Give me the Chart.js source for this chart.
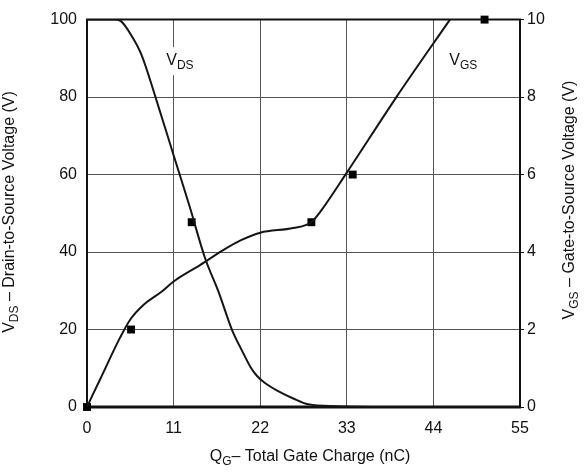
<!DOCTYPE html>
<html>
<head>
<meta charset="utf-8">
<script src="https://cdn.jsdelivr.net/npm/chart.js@4"></script>
<style>
    html, body { margin: 0; padding: 0; background: #fff; }
</style>
</head>
<body>
<canvas id="graf" width="584" height="472"></canvas>
<script>
// Gate charge - odčítané z obrázku
const qTicks = [0, 11, 22, 33, 44, 55]
const vdsTicks = [0, 20, 40, 60, 80, 100]
const vgsTicks = [0, 2, 4, 6, 8, 10]

// V_DS krivka (ľavá os, V)
const vdsQ = [0, 3.5, 4.3, 5.7, 6.9, 8.7, 11, 13, 15, 16.7, 18.4, 19.7, 20.8, 21.6, 22.6, 24.1, 26.2, 28.1, 31.7, 40, 55]
const vdsV = [100, 100, 99.6, 95.7, 91, 80, 65, 52, 38.4, 29.8, 20, 14.5, 10.2, 8.0, 6.2, 4.3, 2.2, 0.7, 0.2, 0, 0]

// V_GS krivka (pravá os, V)
const vgsQ = [0, 0.6, 1.7, 4.2, 5.5, 7.2, 9.5, 11, 14.4, 17.3, 19.5, 22, 26.2, 28.5, 29.6, 33, 39.3, 46.1]
const vgsV = [0, 0.26, 0.73, 1.79, 2.26, 2.64, 2.98, 3.24, 3.67, 4.05, 4.3, 4.5, 4.62, 4.77, 5.03, 6.05, 8.0, 10]

// štvorcové značky (pravá os)
const markQ = [0, 5.6, 13.3, 28.5, 33.75, 50.5]
const markV = [0, 2, 4.77, 4.77, 6, 10]

// popisy kriviek (pozícia v dátach ľavej osi)
const curveNames = [['V', 'DS'], ['V', 'GS']]
const curveQ = [11.8, 47.8]
const curveV = [88.5, 88.5]

const FONT = '"Liberation Sans", Arial, Helvetica, sans-serif'
const INK = '#111'

function body(xs, ys) {
    return xs.map((x, i) => ({ x, y: ys[i] }))
}

// text s dolným indexom: parts = [[text, sub], ...]
function textSub(ctx, parts, x, y, size) {
    const subSize = Math.round(size * 0.75)
    let w = 0
    parts.forEach(p => {
        ctx.font = `${p[1] ? subSize : size}px ${FONT}`
        w += ctx.measureText(p[0]).width
    })
    let cx = x - w / 2
    ctx.textAlign = 'left'
    ctx.textBaseline = 'alphabetic'
    parts.forEach(p => {
        ctx.font = `${p[1] ? subSize : size}px ${FONT}`
        ctx.fillText(p[0], cx, p[1] ? y + 4 : y)
        cx += ctx.measureText(p[0]).width
    })
    return w
}

const texty = {
    id: 'texty',
    beforeDatasetsDraw(chart) {
        const ctx = chart.ctx
        const a = chart.chartArea
        const sx = chart.scales.x
        const sy = chart.scales.y

        // rám
        ctx.save()
        ctx.strokeStyle = INK
        ctx.lineWidth = 2
        ctx.beginPath()
        ctx.moveTo(a.left, a.bottom); ctx.lineTo(a.left, a.top)
        ctx.lineTo(a.right, a.top); ctx.lineTo(a.right, a.bottom)
        ctx.stroke()
        ctx.lineWidth = 3
        ctx.beginPath()
        ctx.moveTo(a.left - 1, a.bottom); ctx.lineTo(a.right + 1, a.bottom)
        ctx.stroke()

        // popisy kriviek s bielym pozadím
        curveNames.forEach((n, i) => {
            const px = sx.getPixelForValue(curveQ[i])
            const py = sy.getPixelForValue(curveV[i])
            ctx.font = `16px ${FONT}`
            let w = ctx.measureText(n[0]).width
            ctx.font = `12px ${FONT}`
            w += ctx.measureText(n[1]).width
            ctx.fillStyle = '#fff'
            ctx.fillRect(px - w / 2 - 3, py - 17, w + 6, 28)
            ctx.fillStyle = INK
            textSub(ctx, [[n[0], false], [n[1], true]], px, py + 1, 16)
        })
        ctx.restore()
    },
    afterDraw(chart) {
        const ctx = chart.ctx
        ctx.save()
        ctx.fillStyle = INK

        // os X
        textSub(ctx, [['Q', false], ['G', true], ['– Total Gate Charge (nC)', false]], 310, 461, 16)

        // ľavá os
        ctx.save()
        ctx.translate(14, 212)
        ctx.rotate(-Math.PI / 2)
        textSub(ctx, [['V', false], ['DS', true], [' – Drain-to-Source Voltage (V)', false]], 0, 0, 16)
        ctx.restore()

        // pravá os
        ctx.save()
        ctx.translate(574, 200)
        ctx.rotate(-Math.PI / 2)
        textSub(ctx, [['V', false], ['GS', true], [' – Gate-to-Source Voltage (V)', false]], 0, 0, 16)
        ctx.restore()

        ctx.restore()
    }
}

const tickFont = { family: FONT, size: 16 }

new Chart(document.getElementById('graf').getContext('2d'), {
    type: 'scatter',
    data: {
        datasets: [
            {
                label: 'VDS', data: body(vdsQ, vdsV), yAxisID: 'y', showLine: true,
                borderColor: '#151515', borderWidth: 2, pointRadius: 0,
                cubicInterpolationMode: 'monotone'
            },
            {
                label: 'VGS', data: body(vgsQ, vgsV), yAxisID: 'y2', showLine: true,
                borderColor: '#151515', borderWidth: 2, pointRadius: 0,
                cubicInterpolationMode: 'monotone'
            },
            {
                label: 'body', data: body(markQ, markV), yAxisID: 'y2', showLine: false,
                pointStyle: 'rect', pointRadius: 5.6, backgroundColor: '#000',
                borderColor: '#000', borderWidth: 0, clip: false
            }
        ]
    },
    options: {
        responsive: false,
        animation: false,
        layout: { padding: { top: 15, left: 0, right: 0, bottom: 0 } },
        plugins: { legend: { display: false }, tooltip: { enabled: false } },
        scales: {
            x: {
                type: 'linear', min: 0, max: 55,
                afterBuildTicks: s => { s.ticks = qTicks.map(v => ({ value: v })) },
                afterFit: s => { s.height = 65 },
                grid: { color: '#555', lineWidth: 1, drawTicks: false },
                border: { display: false },
                ticks: { color: INK, font: tickFont, padding: 12, maxRotation: 0 }
            },
            y: {
                type: 'linear', position: 'left', min: 0, max: 100,
                afterBuildTicks: s => { s.ticks = vdsTicks.map(v => ({ value: v })) },
                afterFit: s => { s.width = 87 },
                grid: { color: '#555', lineWidth: 1, drawTicks: false },
                border: { display: false },
                ticks: { color: INK, font: tickFont, padding: 10 }
            },
            y2: {
                type: 'linear', position: 'right', min: 0, max: 10,
                afterBuildTicks: s => { s.ticks = vgsTicks.map(v => ({ value: v })) },
                afterFit: s => { s.width = 64 },
                grid: { drawOnChartArea: false, drawTicks: true, tickLength: 4, color: INK, lineWidth: 1 },
                border: { display: false },
                ticks: { color: INK, font: tickFont, padding: 3 }
            }
        }
    },
    plugins: [texty]
})
</script>
</body>
</html>
